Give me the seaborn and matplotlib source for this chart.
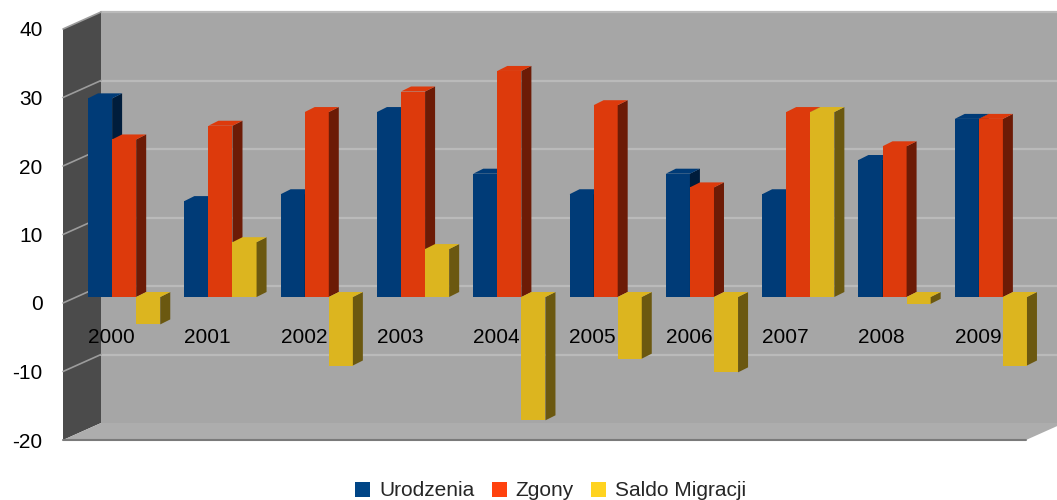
import numpy as np
import pandas as pd
import seaborn as sns
import matplotlib.pyplot as plt
from matplotlib.patches import Polygon, Patch
from matplotlib.lines import Line2D
from matplotlib.transforms import IdentityTransform, ScaledTranslation

# Data
years = ['2000', '2001', '2002', '2003', '2004', '2005', '2006', '2007', '2008', '2009']
urodzenia = [29, 14, 15, 27, 18, 15, 18, 15, 20, 26]
zgony = [23, 25, 27, 30, 33, 28, 16, 27, 22, 26]
saldo = [-4, 8, -10, 7, -18, -9, -11, 27, -1, -10]
series = ['Urodzenia', 'Zgony', 'Saldo Migracji']
y_ticks = [-20, -10, 0, 10, 20, 30, 40]

front_colors = ['#003b77', '#dd3a0c', '#dcb51f']
side_colors = ['#001d3c', '#6c1b06', '#6b5810']
legend_colors = ['#004586', '#ff420e', '#ffd320']

df = pd.DataFrame({
    'Rok': years * 3,
    'Seria': np.repeat(series, len(years)),
    'Wartosc': urodzenia + zgony + saldo,
})

sns.set_theme(style='white')
plt.rcParams['font.family'] = ['Liberation Sans', 'DejaVu Sans']
plt.rcParams['axes.unicode_minus'] = False

fig = plt.figure(figsize=(10.57, 5.0), dpi=100)
ax = fig.add_axes([76 / 1057, 66 / 500, 963 / 1057, 411 / 500])
ax.set_facecolor('none')
ax.set_axisbelow(False)

sns.barplot(data=df, x='Rok', y='Wartosc', hue='Seria', palette=front_colors,
            saturation=1, width=0.75, linewidth=0, legend=False, ax=ax)

ax.set_xlim(-0.5, 9.5)
ax.set_ylim(-20, 40)
ax.set_autoscale_on(False)
ax.set_xlabel('')
ax.set_ylabel('')
ax.set_yticks(y_ticks)
for s in ax.spines.values():
    s.set_visible(False)
ax.spines['bottom'].set_position(('data', 0))
ax.tick_params(axis='both', length=0, labelsize=15, colors='black')
ax.tick_params(axis='y', pad=24)
ax.tick_params(axis='x', pad=22)

# pseudo-3D geometry (pixel offsets)
back = (25, 11)
front = (-13, -6)
depth = (10, 5)


def px(x, y, off=(0, 0)):
    X, Y = ax.transData.transform((x, y))
    return (X + off[0], Y + off[1])


def face(pts, color, z):
    ax.add_patch(Polygon(pts, closed=True, facecolor=color, edgecolor='none',
                         transform=IdentityTransform(), clip_on=False, zorder=z))


x0, x1 = -0.5, 9.5
y0, y1 = -20, 40
# back wall, left wall, floor
face([px(x0, y0, back), px(x1, y0, back), px(x1, y1, back), px(x0, y1, back)], '#a6a6a6', 0.5)
face([px(x0, y0, front), px(x0, y0, back), px(x0, y1, back), px(x0, y1, front)], '#4b4b4b', 0.6)
face([px(x0, y0, front), px(x1, y0, front), px(x1, y0, back), px(x0, y0, back)], '#adadad', 0.6)
p, q = px(x0, y0, front), px(x1, y0, front)
ax.add_line(Line2D([p[0], q[0]], [p[1], q[1]], color='#7a7a7a', lw=1.5,
                   transform=IdentityTransform(), clip_on=False, zorder=0.7))

# grid lines on the walls
for t in y_ticks[1:]:
    a, b = px(x0, t, back), px(x1, t, back)
    ax.add_line(Line2D([a[0], b[0]], [a[1], b[1]], color='#bababa', lw=1.6,
                       transform=IdentityTransform(), clip_on=False, zorder=0.65))
    c = px(x0, t, front)
    ax.add_line(Line2D([c[0], a[0]], [c[1], a[1]], color='#9c9c9c', lw=1.2,
                       transform=IdentityTransform(), clip_on=False, zorder=0.7))

# side and top faces of the bars
for k, cont in enumerate(ax.containers):
    for bar in cont:
        bx, by = bar.get_x(), bar.get_y()
        bw, bh = bar.get_width(), bar.get_height()
        lo, hi = min(by, by + bh), max(by, by + bh)
        z = 3 + k
        bar.set_zorder(z)
        face([px(bx + bw, lo), px(bx + bw, hi), px(bx + bw, hi, depth), px(bx + bw, lo, depth)],
             side_colors[k], z)
        face([px(bx, hi), px(bx + bw, hi), px(bx + bw, hi, depth), px(bx, hi, depth)],
             front_colors[k], z)

# shift tick labels to the front plane
for lab in ax.get_yticklabels():
    lab.set_transform(lab.get_transform() + ScaledTranslation(0, -0.06, fig.dpi_scale_trans))
for lab in ax.get_xticklabels():
    lab.set_transform(lab.get_transform() + ScaledTranslation(-0.13, 0, fig.dpi_scale_trans))

handles = [Patch(facecolor=c, edgecolor='none', label=s) for c, s in zip(legend_colors, series)]
fig.legend(handles=handles, loc='lower center', bbox_to_anchor=(0.521, -0.03), ncol=3,
           frameon=False, fontsize=15, handlelength=0.72, handleheight=0.72,
           handletextpad=0.43, columnspacing=0.82, borderpad=0.2)

fig.savefig('out.png', dpi=100, facecolor='white')
